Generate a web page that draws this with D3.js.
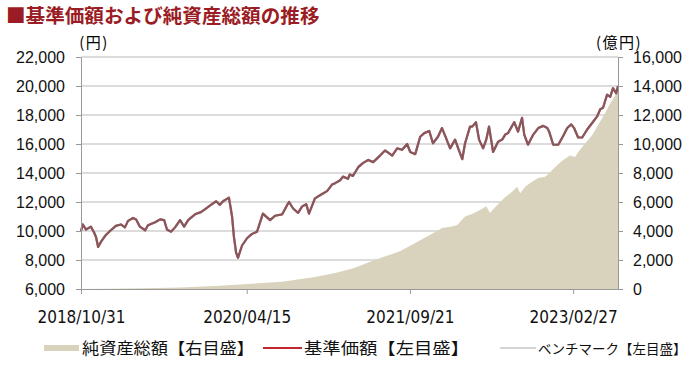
<!DOCTYPE html>
<html>
<head>
<meta charset="utf-8">
<script src="https://cdn.jsdelivr.net/npm/d3@7"></script>
<style>
  body { margin: 0; background: #fff; }
  svg { display: block; }
</style>
</head>
<body>
<svg id="chart" width="692" height="371"></svg>
<script>
// 基準価額（円）
const navDates = [
  "2018/10/31","2018/11/06","2018/11/16","2018/12/02","2018/12/12","2018/12/18","2018/12/25",
  "2019/01/03","2019/01/16","2019/02/01","2019/02/20","2019/03/08","2019/03/21","2019/03/31",
  "2019/04/16","2019/04/26","2019/05/08","2019/05/25","2019/06/03","2019/06/26","2019/07/12",
  "2019/07/25","2019/08/03","2019/08/16","2019/08/29","2019/09/14","2019/09/27","2019/10/10",
  "2019/11/01","2019/11/20","2019/12/06","2019/12/22","2020/01/08","2020/01/20","2020/01/30",
  "2020/02/14","2020/02/18","2020/02/28","2020/03/05","2020/03/12","2020/03/18","2020/03/31",
  "2020/04/16","2020/05/02","2020/05/18","2020/05/25","2020/06/06","2020/06/29","2020/07/15",
  "2020/08/07","2020/08/23","2020/08/29","2020/09/11","2020/09/27","2020/10/10","2020/10/23",
  "2020/11/01","2020/11/20","2020/12/13","2020/12/29","2021/01/14","2021/01/24","2021/02/09",
  "2021/02/18","2021/03/06","2021/03/12","2021/03/22","2021/04/08","2021/04/24","2021/05/10",
  "2021/05/26","2021/06/17","2021/07/03","2021/07/10","2021/07/26","2021/08/11","2021/08/27",
  "2021/09/12","2021/09/22","2021/10/08","2021/10/24","2021/11/06","2021/11/22","2021/12/04",
  "2021/12/20","2022/01/02","2022/01/15","2022/01/28","2022/02/13","2022/02/23","2022/03/08",
  "2022/03/17","2022/04/02","2022/04/09","2022/04/21","2022/05/01","2022/05/14","2022/05/24",
  "2022/06/02","2022/06/15","2022/07/01","2022/07/14","2022/07/24","2022/08/02","2022/08/15",
  "2022/08/22","2022/09/03","2022/09/16","2022/09/23","2022/10/05","2022/10/22","2022/11/07",
  "2022/11/23","2022/12/06","2022/12/12","2022/12/25","2023/01/10","2023/01/26","2023/02/08",
  "2023/02/21","2023/03/02","2023/03/15","2023/03/28","2023/04/13","2023/04/29","2023/05/15",
  "2023/05/25","2023/06/03","2023/06/16","2023/06/26","2023/07/05","2023/07/15","2023/07/21"
];
const navValues = [
  10000,10450,10100,10300,9900,9600,8900,
  9250,9650,10000,10350,10450,10250,10700,
  10900,10800,10300,10050,10400,10600,10800,
  10750,10100,9950,10250,10750,10300,10750,
  11150,11300,11550,11800,12050,11800,12050,
  12250,12300,11000,9600,8500,8150,9000,
  9500,9800,9950,10400,11200,10750,11050,
  11150,11800,12000,11550,11250,11700,11850,
  11200,12250,12550,12750,13200,13300,13500,
  13750,13600,13900,13800,14400,14700,14900,
  14750,15200,15550,15450,15200,15700,15600,
  16000,15450,15300,16500,16750,16900,16050,
  16500,17100,16400,15700,16300,15700,14950,
  16050,17200,17200,17500,16300,15700,16300,
  17200,15450,16150,16300,16650,16750,17250,
  17500,16850,17800,16650,15950,16650,17100,
  17250,17100,16850,15950,15950,16550,17100,
  17350,17100,16450,16450,17000,17450,17900,
  18400,18500,19400,19250,19850,19500,20000
];
// ベンチマーク（左目盛）: 基準価額とほぼ重なって推移
const benchmarkValues = navValues.slice();

// 純資産総額（億円）
const assetDates = [
  "2018/10/31","2019/02/01","2019/05/25","2019/09/14","2020/01/04","2020/04/19","2020/08/07",
  "2020/11/20","2021/01/24","2021/03/26","2021/05/06","2021/06/27","2021/08/20","2021/10/14",
  "2021/12/04","2022/01/02","2022/01/28","2022/02/19","2022/03/17","2022/04/12","2022/05/04",
  "2022/05/24","2022/06/05","2022/06/22","2022/07/24","2022/08/15","2022/08/31","2022/09/10",
  "2022/09/26","2022/10/18","2022/11/07","2022/11/29","2022/12/15","2023/01/07","2023/01/26",
  "2023/02/17","2023/03/05","2023/03/21","2023/04/07","2023/04/29","2023/05/18","2023/06/10",
  "2023/06/26","2023/07/12","2023/07/21"
];
const assetValues = [
  0,20,60,110,200,350,500,
  830,1100,1450,1800,2200,2600,3250,
  3850,4200,4300,4400,5000,5200,5450,
  5700,5250,5650,6350,6700,7050,6600,
  7050,7400,7650,7750,8050,8550,8900,
  9200,9100,9600,10050,10600,11300,12150,
  12800,13350,13950
];

const leftTicks = [6000, 8000, 10000, 12000, 14000, 16000, 18000, 20000, 22000];
const rightTicks = [0, 2000, 4000, 6000, 8000, 10000, 12000, 14000, 16000];
const xTickLabels = ["2018/10/31", "2020/04/15", "2021/09/21", "2023/02/27"];

const parse = d3.timeParse("%Y/%m/%d");
const fmt = d3.format(",");

const svg = d3.select("#chart");
const plotLeft = 81, plotRight = 618, plotTop = 57, plotBottom = 289;

const x = d3.scaleTime()
    .domain([parse("2018/10/31"), parse("2023/07/21")])
    .range([plotLeft, plotRight]);
const yL = d3.scaleLinear().domain([6000, 22000]).range([plotBottom, plotTop]);
const yR = d3.scaleLinear().domain([0, 16000]).range([plotBottom, plotTop]);

const nav = navDates.map((d, i) => ({ date: parse(d), v: navValues[i] }));
const bench = navDates.map((d, i) => ({ date: parse(d), v: benchmarkValues[i] }));
const assets = assetDates.map((d, i) => ({ date: parse(d), v: assetValues[i] }));

// title
svg.append("text")
    .attr("x", 6).attr("y", 23)
    .attr("font-family", "'Noto Sans CJK JP', sans-serif")
    .attr("font-weight", "bold")
    .attr("font-size", 19.6)
    .attr("fill", "#9b1c24")
    .text("■基準価額および純資産総額の推移");

// units
svg.append("text")
    .attr("x", 94).attr("y", 48)
    .attr("text-anchor", "middle")
    .attr("font-family", "'Noto Sans CJK JP', sans-serif")
    .attr("font-size", 15)
    .attr("letter-spacing", 1.5)
    .text("(円)");
svg.append("text")
    .attr("x", 619).attr("y", 48)
    .attr("text-anchor", "middle")
    .attr("font-family", "'Noto Sans CJK JP', sans-serif")
    .attr("font-size", 15)
    .attr("letter-spacing", 1.5)
    .text("(億円)");

// gridlines
svg.append("g")
  .selectAll("line")
  .data(leftTicks.slice(1))
  .join("line")
    .attr("x1", plotLeft).attr("x2", plotRight)
    .attr("y1", d => yL(d)).attr("y2", d => yL(d))
    .attr("stroke", "#d0d0d0")
    .attr("stroke-width", 1.5);

// net assets area
const area = d3.area()
    .x(d => x(d.date))
    .y0(yR(0))
    .y1(d => yR(d.v));
svg.append("path")
    .datum(assets)
    .attr("d", area)
    .attr("fill", "#d9d3bd");

// lines
const line = d3.line()
    .x(d => x(d.date))
    .y(d => yL(d.v));
svg.append("path")
    .datum(nav)
    .attr("d", line)
    .attr("fill", "none")
    .attr("stroke", "#b0303a")
    .attr("stroke-width", 2.2)
    .attr("stroke-linejoin", "round");
svg.append("path")
    .datum(bench)
    .attr("d", line)
    .attr("fill", "none")
    .attr("stroke", "#707070")
    .attr("stroke-opacity", 0.62)
    .attr("stroke-width", 2.2)
    .attr("stroke-linejoin", "round");

// axes
const styleAxis = g => {
  g.selectAll(".domain").attr("stroke", "#999");
  g.selectAll(".tick line").attr("stroke", "#999");
  g.selectAll("text")
      .attr("fill", "#111")
      .attr("font-family", "'Liberation Sans', Arial, sans-serif")
      .attr("font-size", 16);
};

svg.append("g")
    .attr("transform", `translate(${plotLeft},0)`)
    .call(d3.axisLeft(yL).tickValues(leftTicks).tickFormat(fmt).tickSize(5).tickSizeOuter(0).tickPadding(11))
    .call(styleAxis);

svg.append("g")
    .attr("transform", `translate(${plotRight},0)`)
    .call(d3.axisRight(yR).tickValues(rightTicks).tickFormat(fmt).tickSize(5).tickSizeOuter(0).tickPadding(10))
    .call(styleAxis);

svg.append("g")
    .attr("transform", `translate(0,${plotBottom})`)
    .call(d3.axisBottom(x).tickValues(xTickLabels.map(parse)).tickFormat(d3.timeFormat("%Y/%m/%d")).tickSize(5).tickSizeOuter(0).tickPadding(17))
    .call(styleAxis)
    .call(g => g.selectAll("text")
        .attr("font-family", "'DejaVu Sans Condensed', 'DejaVu Sans', sans-serif")
        .attr("font-size", 17));

// legend
const legend = svg.append("g")
    .attr("font-family", "'Noto Sans CJK JP', sans-serif")
    .attr("font-size", 16)
    .attr("fill", "#111");
legend.append("rect")
    .attr("x", 44).attr("y", 345).attr("width", 35).attr("height", 6)
    .attr("fill", "#d9d3bd");
legend.append("text").attr("x", 82).attr("y", 354)
    .attr("textLength", 172).attr("lengthAdjust", "spacingAndGlyphs")
    .text("純資産総額【右目盛】");
legend.append("line")
    .attr("x1", 263).attr("x2", 302).attr("y1", 348).attr("y2", 348)
    .attr("stroke", "#c0282d").attr("stroke-width", 2);
legend.append("text").attr("x", 304).attr("y", 354)
    .attr("textLength", 165).attr("lengthAdjust", "spacingAndGlyphs")
    .text("基準価額【左目盛】");
legend.append("line")
    .attr("x1", 500).attr("x2", 536).attr("y1", 348).attr("y2", 348)
    .attr("stroke", "#aaa").attr("stroke-width", 1);
legend.append("text").attr("x", 538).attr("y", 353.5)
    .attr("font-size", 13.5)
    .text("ベンチマーク【左目盛】");
</script>
</body>
</html>
